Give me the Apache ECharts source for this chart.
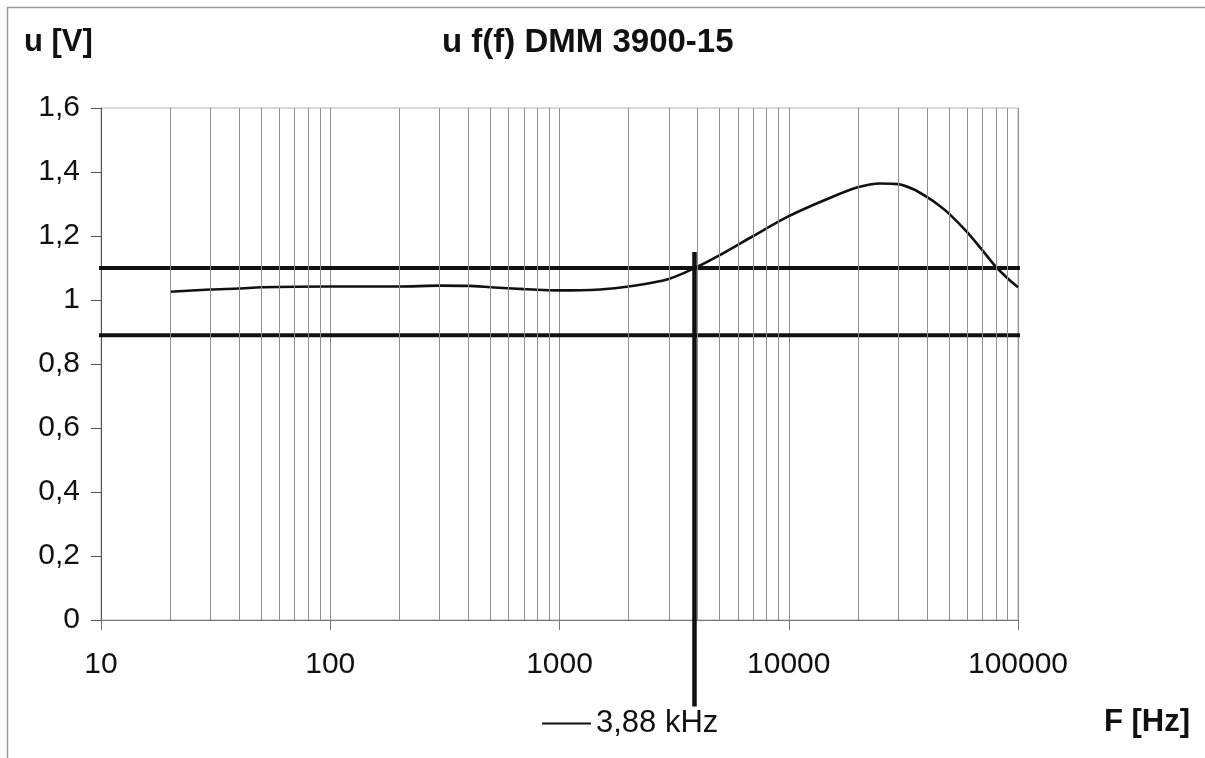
<!DOCTYPE html>
<html>
<head>
<meta charset="utf-8">
<script src="https://cdn.jsdelivr.net/npm/echarts@6/dist/echarts.min.js"></script>
<style>
  html, body { margin: 0; padding: 0; background: #fff; }
  #chart { width: 1205px; height: 758px; }
</style>
</head>
<body>
<div id="chart"></div>
<script>
// Measured response of the DMM 3900-15 (frequency in Hz, voltage in V)
const freqHz = [20, 30, 40, 50, 100, 200, 300, 400, 500, 700, 1000, 1500, 2000, 3000, 4000,
                5000, 7000, 10000, 15000, 20000, 25000, 30000, 35000, 40000, 45000, 50000, 60000,
                70000, 80000, 90000, 100000];
const voltage = [1.026, 1.033, 1.036, 1.040, 1.042, 1.042, 1.045, 1.044, 1.040, 1.034, 1.030, 1.033, 1.042, 1.066, 1.104,
                 1.140, 1.200, 1.262, 1.318, 1.352, 1.364, 1.362, 1.346, 1.322, 1.297, 1.270, 1.212,
                 1.155, 1.104, 1.068, 1.040];

// Tolerance band limits (V) and the frequency where the response leaves it
const upperLimit = 1.1;
const lowerLimit = 0.89;
const cutoffHz = 3880;
const cutoffLabel = '3,88 kHz';

// Band lines run slightly past both ends of the plot
const bandFrom = 9.2;
const bandTo = 102000;
// Marker line: from just above the band down to the legend entry
const markerTop = 1.15;
const markerBottom = -0.27;

// Intermediate log-grid frequencies (2..9 within each decade)
const minorGridHz = [];
[10, 100, 1000, 10000].forEach(d => {
  for (let k = 2; k <= 9; k++) minorGridHz.push(k * d);
});

const FONT = '"Liberation Sans", Arial, sans-serif';
const chart = echarts.init(document.getElementById('chart'), null, { renderer: 'canvas' });

chart.setOption({
  backgroundColor: '#ffffff',
  animation: false,
  graphic: [{
    type: 'rect',
    shape: { x: 7.5, y: 7.5, width: 1300, height: 800 },
    style: { fill: 'none', stroke: '#9a9a9a', lineWidth: 1.5 },
    silent: true
  }],
  title: [
    { text: 'u f(f) DMM 3900-15', left: 442, top: 26, padding: 0,
      textStyle: { fontFamily: FONT, fontSize: 33, fontWeight: 'bold', color: '#111' } },
    { text: 'u [V]', left: 24, top: 27, padding: 0,
      textStyle: { fontFamily: FONT, fontSize: 31, fontWeight: 'bold', color: '#111' } },
    { text: 'F [Hz]', left: 1104, top: 707, padding: 0,
      textStyle: { fontFamily: FONT, fontSize: 31, fontWeight: 'bold', color: '#111' } }
  ],
  legend: {
    left: 542, top: 708, padding: 0,
    data: [cutoffLabel],
    icon: 'rect', itemWidth: 49, itemHeight: 2, itemGap: 6,
    itemStyle: { color: '#111' },
    textStyle: { fontFamily: FONT, fontSize: 31, color: '#111' }
  },
  grid: {
    left: 101, right: 187, top: 108, bottom: 138,
    show: true, borderColor: '#b5b5b5', borderWidth: 1, backgroundColor: 'transparent'
  },
  xAxis: {
    type: 'log', logBase: 10, min: 10, max: 100000, splitNumber: 4,
    axisLine: { show: true, onZero: false, lineStyle: { color: '#777', width: 1 } },
    axisTick: { show: true, inside: false, length: 10, lineStyle: { color: '#777' } },
    minorTick: { show: false },
    splitLine: { show: true, lineStyle: { color: '#8f8f8f', width: 1 } },
    axisLabel: {
      margin: 30, fontFamily: FONT, fontSize: 30, color: '#111',
      formatter: v => String(Math.round(v))
    }
  },
  yAxis: {
    type: 'value', min: 0, max: 1.6, interval: 0.2,
    axisLine: { show: true, lineStyle: { color: '#555', width: 1 } },
    axisTick: { show: true, inside: false, length: 10, lineStyle: { color: '#555' } },
    splitLine: { show: false },
    axisLabel: {
      margin: 21, fontFamily: FONT, fontSize: 30, color: '#111',
      formatter: v => String(+v.toFixed(1)).replace('.', ',')
    }
  },
  series: [
    {
      name: 'grid', type: 'line', data: [], z: 1, silent: true,
      markLine: {
        silent: true, symbol: 'none', animation: false,
        label: { show: false },
        lineStyle: { color: '#8f8f8f', width: 1, type: 'solid' },
        data: minorGridHz.map(f => ({ xAxis: f }))
      }
    },
    {
      name: 'u', type: 'line', z: 4,
      data: freqHz.map((f, i) => [f, voltage[i]]),
      smooth: 0.25, symbol: 'none',
      lineStyle: { color: '#111', width: 2.6 }
    },
    {
      name: 'upper', type: 'line', z: 3, clip: false, symbol: 'none',
      data: [[bandFrom, upperLimit], [bandTo, upperLimit]],
      lineStyle: { color: '#111', width: 4 }
    },
    {
      name: 'lower', type: 'line', z: 3, clip: false, symbol: 'none',
      data: [[bandFrom, lowerLimit], [bandTo, lowerLimit]],
      lineStyle: { color: '#111', width: 4 }
    },
    {
      name: cutoffLabel, type: 'line', z: 5, clip: false, symbol: 'none',
      data: [[cutoffHz, markerTop], [cutoffHz, markerBottom]],
      lineStyle: { color: '#111', width: 4.5 }
    }
  ]
});
</script>
</body>
</html>
